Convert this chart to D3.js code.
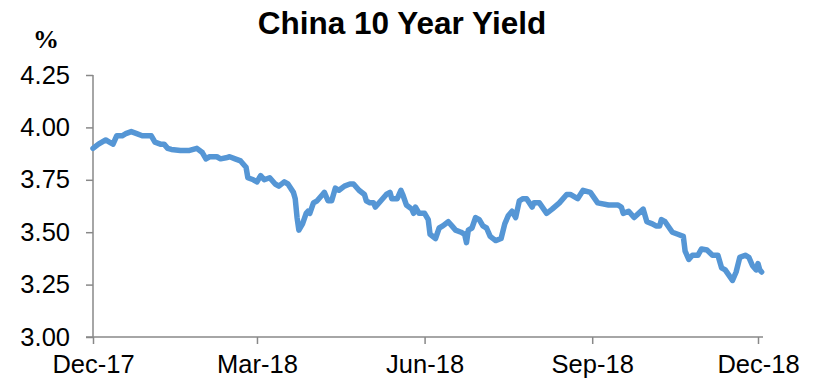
<!DOCTYPE html>
<html>
<head>
<meta charset="utf-8">
<script src="https://cdn.jsdelivr.net/npm/d3@7"></script>
<style>
  body { margin: 0; background: #fff; }
  svg { display: block; }
  .tick text { font-family: "Liberation Sans", Arial, sans-serif; font-size: 25.5px; fill: #000; }
</style>
</head>
<body>
<svg id="chart"></svg>
<script>
// Data
const dates = ["2017-12-01","2017-12-04","2017-12-08","2017-12-10","2017-12-12","2017-12-14","2017-12-17","2017-12-19","2017-12-22","2017-12-25","2017-12-28","2017-12-29","2018-01-02","2018-01-04","2018-01-07","2018-01-09","2018-01-11","2018-01-13","2018-01-18","2018-01-23","2018-01-27","2018-01-30","2018-02-01","2018-02-03","2018-02-07","2018-02-09","2018-02-12","2018-02-14","2018-02-17","2018-02-20","2018-02-23","2018-02-24","2018-02-27","2018-03-01","2018-03-03","2018-03-05","2018-03-08","2018-03-11","2018-03-13","2018-03-16","2018-03-18","2018-03-21","2018-03-22","2018-03-23","2018-03-24","2018-03-26","2018-03-28","2018-03-29","2018-03-30","2018-04-01","2018-04-03","2018-04-06","2018-04-07","2018-04-09","2018-04-11","2018-04-13","2018-04-15","2018-04-18","2018-04-21","2018-04-23","2018-04-26","2018-04-29","2018-04-30","2018-05-02","2018-05-04","2018-05-05","2018-05-08","2018-05-11","2018-05-13","2018-05-14","2018-05-17","2018-05-19","2018-05-20","2018-05-22","2018-05-25","2018-05-26","2018-05-27","2018-05-29","2018-06-01","2018-06-03","2018-06-04","2018-06-07","2018-06-09","2018-06-11","2018-06-14","2018-06-16","2018-06-18","2018-06-21","2018-06-23","2018-06-24","2018-06-25","2018-06-27","2018-06-29","2018-07-01","2018-07-03","2018-07-05","2018-07-07","2018-07-10","2018-07-13","2018-07-15","2018-07-17","2018-07-19","2018-07-21","2018-07-23","2018-07-25","2018-07-27","2018-07-30","2018-07-31","2018-08-03","2018-08-07","2018-08-10","2018-08-14","2018-08-18","2018-08-20","2018-08-24","2018-08-27","2018-08-31","2018-09-04","2018-09-10","2018-09-15","2018-09-17","2018-09-18","2018-09-21","2018-09-24","2018-09-29","2018-10-01","2018-10-04","2018-10-06","2018-10-08","2018-10-09","2018-10-11","2018-10-15","2018-10-18","2018-10-21","2018-10-22","2018-10-24","2018-10-26","2018-10-29","2018-10-31","2018-11-03","2018-11-06","2018-11-09","2018-11-11","2018-11-13","2018-11-17","2018-11-19","2018-11-21","2018-11-24","2018-11-26","2018-11-28","2018-11-30","2018-12-01","2018-12-02","2018-12-03"];
const yields = [3.90,3.92,3.94,3.93,3.92,3.96,3.96,3.97,3.98,3.97,3.96,3.96,3.96,3.93,3.92,3.92,3.90,3.895,3.89,3.89,3.90,3.88,3.85,3.86,3.86,3.85,3.855,3.86,3.85,3.84,3.81,3.76,3.75,3.74,3.77,3.75,3.76,3.73,3.72,3.74,3.73,3.69,3.66,3.57,3.51,3.54,3.59,3.60,3.59,3.64,3.65,3.68,3.69,3.65,3.65,3.71,3.70,3.72,3.73,3.73,3.70,3.68,3.65,3.64,3.64,3.62,3.65,3.68,3.69,3.66,3.66,3.70,3.68,3.63,3.61,3.59,3.62,3.59,3.59,3.56,3.49,3.47,3.52,3.53,3.55,3.53,3.51,3.50,3.49,3.45,3.51,3.52,3.57,3.56,3.53,3.52,3.48,3.46,3.47,3.54,3.58,3.60,3.57,3.65,3.66,3.66,3.62,3.64,3.64,3.59,3.61,3.64,3.68,3.68,3.66,3.70,3.69,3.64,3.63,3.63,3.62,3.59,3.60,3.57,3.61,3.55,3.54,3.53,3.53,3.56,3.55,3.50,3.49,3.48,3.41,3.37,3.39,3.39,3.42,3.415,3.39,3.39,3.33,3.32,3.27,3.31,3.38,3.39,3.38,3.34,3.32,3.35,3.32,3.31];
const xTicks = ["2017-12-01","2018-03-01","2018-06-01","2018-09-01","2018-12-01"];
const yTicks = [3.00,3.25,3.50,3.75,4.00,4.25];

const w = 816, h = 382;
const parse = d3.timeParse("%Y-%m-%d");
const data = dates.map((d, i) => ({date: parse(d), value: yields[i]}));

const svg = d3.select("#chart").attr("width", w).attr("height", h);

const x = d3.scaleTime()
  .domain([parse("2017-12-01"), parse("2018-12-01")])
  .range([93, 758]);
const y = d3.scaleLinear().domain([3, 4.25]).range([337, 75]);

// Title and unit
svg.append("text")
  .attr("x", 402).attr("y", 34)
  .attr("text-anchor", "middle")
  .style("font-family", "'Liberation Sans', Arial, sans-serif")
  .style("font-weight", "bold").style("font-size", "31.5px")
  .text("China 10 Year Yield");

svg.append("text")
  .attr("x", 46).attr("y", 48)
  .attr("text-anchor", "middle")
  .style("font-family", "'Liberation Serif', 'Times New Roman', serif")
  .style("font-weight", "bold").style("font-size", "26px")
  .text("%");

// Axes
svg.append("g")
  .attr("transform", "translate(93,0)")
  .call(d3.axisLeft(y).tickValues(yTicks).tickFormat(d3.format(".2f")).tickSize(7).tickPadding(16));

svg.append("g")
  .attr("transform", "translate(0,337)")
  .call(d3.axisBottom(x).tickValues(xTicks.map(parse)).tickFormat(d3.timeFormat("%b-%y")).tickSize(7).tickPadding(11));

svg.selectAll(".domain").remove();
svg.selectAll(".tick line").attr("stroke", "#888").attr("stroke-width", 1.5);

svg.append("line")
  .attr("x1", 93).attr("x2", 93).attr("y1", 75).attr("y2", 337)
  .attr("stroke", "#888").attr("stroke-width", 1.5);
svg.append("line")
  .attr("x1", 86).attr("x2", 763).attr("y1", 337).attr("y2", 337)
  .attr("stroke", "#888").attr("stroke-width", 1.5);

// Yield line
const line = d3.line()
  .x(d => x(d.date))
  .y(d => y(d.value));

svg.append("path")
  .datum(data)
  .attr("fill", "none")
  .attr("stroke", "#5596d5")
  .attr("stroke-width", 5.5)
  .attr("stroke-linejoin", "round")
  .attr("stroke-linecap", "round")
  .attr("d", line);
</script>
</body>
</html>
